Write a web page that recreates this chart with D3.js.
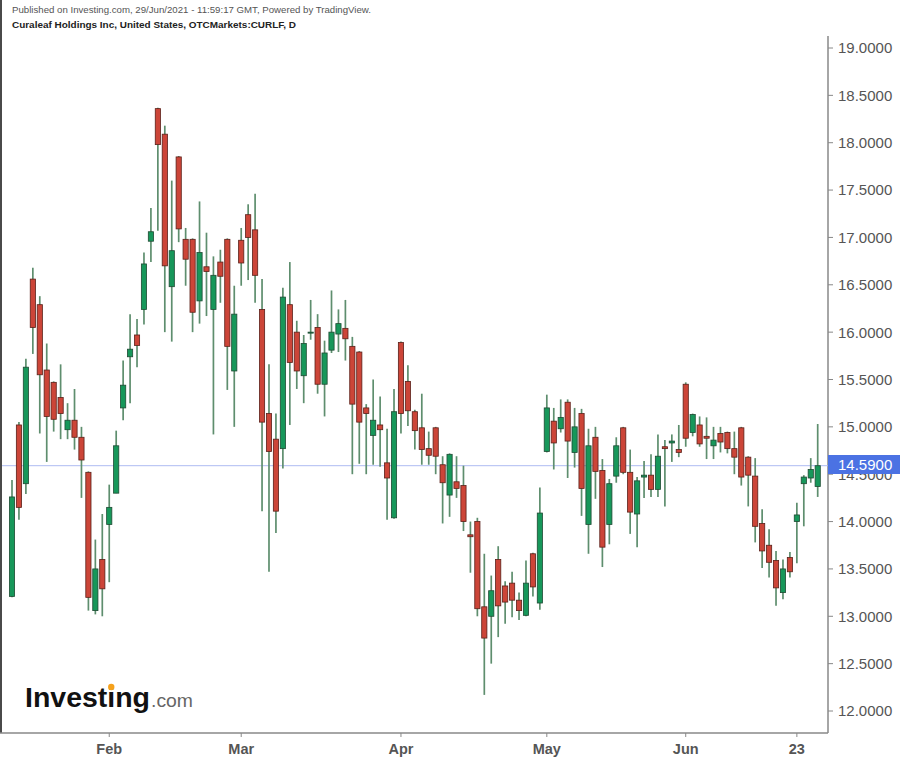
<!DOCTYPE html>
<html><head><meta charset="utf-8">
<script src="https://cdn.jsdelivr.net/npm/d3@7"></script>
<style>html,body{margin:0;padding:0;background:#fff;} svg{display:block;}</style>
</head><body>
<svg id="c" width="904" height="762"></svg>
<script>
// Daily candles, Jan 11 2021 .. Jun 28 2021 (index = trading day)
const opens = [13.21,15.02,14.40,16.56,16.29,15.60,15.47,15.31,14.97,15.07,14.89,14.52,13.06,13.60,13.97,14.30,15.20,15.74,15.97,16.24,
16.96,18.36,18.09,16.48,17.85,16.98,16.98,16.33,16.69,16.24,16.74,16.98,15.59,16.97,17.24,17.08,16.24,15.14,14.87,14.77,
16.29,16.00,15.54,15.99,16.05,15.45,15.81,15.98,16.04,15.85,15.79,15.20,14.91,15.02,14.62,14.04,15.89,15.48,15.16,14.99,
14.77,14.99,14.60,14.28,14.42,14.38,13.86,14.00,13.10,13.00,13.60,13.32,13.35,13.17,13.01,13.66,13.14,14.74,15.06,14.98,
15.26,14.73,15.14,13.97,14.89,14.54,13.97,14.48,14.99,14.52,14.08,14.47,14.49,14.34,14.79,14.83,14.76,15.45,14.94,15.02,
14.90,14.80,14.93,14.94,14.77,14.99,14.68,14.48,13.98,13.75,13.59,13.25,13.62,14.00,14.40,14.46,14.37];
const highs = [14.44,15.05,15.72,16.68,16.38,15.88,15.48,15.66,15.25,15.40,15.00,14.53,13.81,14.08,14.39,14.96,15.70,16.19,16.14,16.84,
17.31,18.37,18.18,17.60,17.86,17.10,16.99,17.38,17.05,16.80,16.87,16.99,16.49,17.10,17.35,17.46,16.56,15.66,15.14,16.47,
16.74,16.12,15.97,16.34,16.19,15.91,16.44,16.24,16.34,15.95,15.80,15.24,15.50,15.32,14.98,15.40,15.90,15.65,15.18,15.35,
14.95,15.00,14.69,14.72,14.69,14.59,14.00,14.04,13.66,13.43,13.74,13.37,13.47,13.25,13.59,13.67,14.36,15.34,15.20,15.29,
15.29,15.20,15.19,14.98,15.00,14.66,14.45,14.89,15.00,14.76,14.47,14.64,14.71,14.92,14.86,14.92,15.02,15.47,15.14,15.11,
15.10,15.00,15.00,14.95,14.95,15.00,14.69,14.67,14.13,13.92,13.69,13.60,13.68,14.20,14.49,14.67,15.03];
const lows = [13.20,14.02,14.29,15.77,14.93,14.63,14.95,14.87,14.87,14.76,14.25,13.06,13.02,13.00,13.36,14.30,15.07,15.25,15.63,16.08,
16.74,17.07,16.00,15.90,16.95,16.49,16.00,16.09,16.17,14.92,16.31,15.39,15.00,16.49,16.55,16.31,14.11,13.47,13.88,14.56,
15.02,15.40,15.25,15.92,15.35,15.11,15.78,15.79,15.70,14.50,14.61,14.50,14.60,14.58,14.02,14.03,14.93,15.01,14.76,14.60,
14.60,14.50,13.98,14.05,14.25,13.90,13.46,13.00,12.17,12.50,12.78,12.92,12.99,12.96,13.00,13.21,13.07,14.73,14.55,14.94,
14.46,14.57,14.06,13.66,14.24,13.52,13.76,14.41,14.50,13.87,13.73,14.25,14.26,14.26,14.16,14.63,14.68,14.79,14.90,14.79,
14.66,14.66,14.73,14.72,14.50,14.38,14.16,13.78,13.51,13.41,13.11,13.18,13.41,13.56,13.95,14.41,14.26];
const closes = [14.26,14.15,15.63,16.05,15.55,15.11,15.08,15.14,15.07,14.89,14.65,13.20,13.50,13.29,14.15,14.80,15.44,15.82,15.86,16.72,
17.06,17.98,16.70,16.86,17.09,16.77,16.21,16.84,16.64,16.60,16.59,15.85,16.19,16.73,17.00,16.60,15.05,14.74,14.11,16.37,
15.68,15.59,15.88,16.00,15.45,15.78,16.00,16.09,15.93,15.24,15.05,15.14,15.07,14.97,14.46,15.16,15.14,15.17,14.96,14.76,
14.70,14.69,14.41,14.71,14.35,14.00,13.84,13.08,12.77,13.27,13.11,13.15,13.17,13.06,13.35,13.31,14.09,15.20,14.83,15.10,
14.85,15.00,14.35,14.80,14.53,13.73,14.40,14.80,14.52,14.10,14.43,14.49,14.34,14.69,14.77,14.85,14.73,14.88,15.13,14.82,
14.88,14.86,14.84,14.77,14.68,14.47,14.49,13.95,13.69,13.57,13.30,13.50,13.47,14.07,14.47,14.55,14.59];

const tickIndex = [14, 33, 56, 77, 97, 113];
const tickLabels = ["Feb", "Mar", "Apr", "May", "Jun", "23"];
const yTicks = [12, 12.5, 13, 13.5, 14, 14.5, 15, 15.5, 16, 16.5, 17, 17.5, 18, 18.5, 19];
const lastPrice = 14.59;

const candles = opens.map((o, i) => ({i, o, h: highs[i], l: lows[i], c: closes[i]}));

const svg = d3.select("#c");
const F = "'Liberation Sans', Arial, sans-serif";
const axisX = 828, axisY = 733;

const x = d3.scaleLinear().domain([0, opens.length - 1]).range([12, 817.7]);
const y = d3.scaleLinear().domain([12, 19]).range([711, 48]);

// frame
svg.append("rect").attr("x", 0).attr("y", 0).attr("width", 2).attr("height", axisY).attr("fill", "#4a4a4a");
svg.append("line").attr("x1", 0).attr("x2", axisX).attr("y1", axisY).attr("y2", axisY).attr("stroke", "#888").attr("stroke-width", 1.5);
svg.append("line").attr("x1", axisX).attr("x2", axisX).attr("y1", 36).attr("y2", axisY).attr("stroke", "#888").attr("stroke-width", 1.5);

// header
svg.append("text").attr("x", 12).attr("y", 13).attr("font-family", F).attr("font-size", 9.5)
  .attr("fill", "#555").attr("textLength", 359).attr("lengthAdjust", "spacingAndGlyphs")
  .text("Published on Investing.com, 29/Jun/2021 - 11:59:17 GMT, Powered by TradingView.");
svg.append("text").attr("x", 12).attr("y", 28).attr("font-family", F).attr("font-size", 9.5).attr("font-weight", "bold")
  .attr("fill", "#222").attr("textLength", 284).attr("lengthAdjust", "spacingAndGlyphs")
  .text("Curaleaf Holdings Inc, United States, OTCMarkets:CURLF, D");

// price line
svg.append("line").attr("x1", 2).attr("x2", axisX).attr("y1", y(lastPrice)).attr("y2", y(lastPrice))
  .attr("stroke", "#aebcf2").attr("stroke-width", 1);

// candles
const g = svg.append("g");
g.selectAll("line.wick").data(candles).join("line").attr("class", "wick")
  .attr("x1", d => x(d.i)).attr("x2", d => x(d.i))
  .attr("y1", d => y(d.h)).attr("y2", d => y(d.l))
  .attr("stroke", "#5e8e6e").attr("stroke-width", 1.7);
g.selectAll("rect.body").data(candles).join("rect").attr("class", "body")
  .attr("x", d => x(d.i) - 2.6).attr("width", 5.2)
  .attr("y", d => y(Math.max(d.o, d.c)))
  .attr("height", d => Math.max(1, Math.abs(y(d.o) - y(d.c))))
  .attr("fill", d => d.c >= d.o ? "#17975a" : "#cc4538")
  .attr("stroke", d => d.c >= d.o ? "#1f4a33" : "#5a2019").attr("stroke-width", 0.8);

// y axis
const ya = svg.append("g");
yTicks.forEach(t => {
  ya.append("line").attr("x1", axisX).attr("x2", axisX + 5).attr("y1", y(t)).attr("y2", y(t)).attr("stroke", "#888");
  ya.append("text").attr("x", 838).attr("y", y(t)).attr("dy", "0.36em").attr("font-family", F).attr("font-size", 15)
    .attr("fill", "#555").text(d3.format(".4f")(t));
});

// price label
svg.append("rect").attr("x", axisX).attr("y", 455).attr("width", 72).attr("height", 19).attr("fill", "#4b72e3");
svg.append("text").attr("x", 838).attr("y", 464.5).attr("dy", "0.36em").attr("font-family", F).attr("font-size", 15)
  .attr("fill", "#fff").text(d3.format(".4f")(lastPrice));

// x axis
const xa = svg.append("g");
tickIndex.forEach((ti, k) => {
  xa.append("line").attr("x1", x(ti)).attr("x2", x(ti)).attr("y1", axisY).attr("y2", axisY + 4).attr("stroke", "#888");
  xa.append("text").attr("x", x(ti)).attr("y", 754).attr("text-anchor", "middle").attr("font-family", F)
    .attr("font-size", 14.5).attr("font-weight", "bold").attr("fill", "#555").text(tickLabels[k]);
});

// logo
const logo = svg.append("text").attr("x", 25).attr("y", 707).attr("font-family", F).attr("font-size", 27)
  .attr("font-weight", "bold").attr("fill", "#111").attr("textLength", 125).attr("lengthAdjust", "spacingAndGlyphs")
  .text("Investing");
svg.append("text").attr("x", 151).attr("y", 707).attr("font-family", F).attr("font-size", 19)
  .attr("fill", "#666").attr("textLength", 42).attr("lengthAdjust", "spacingAndGlyphs").text(".com");
try {
  const ex = logo.node().getExtentOfChar(6);
  svg.append("circle").attr("cx", ex.x + ex.width / 2).attr("cy", 687).attr("r", 3.2).attr("fill", "#f5a11c");
} catch (e) {}
</script>
</body></html>
